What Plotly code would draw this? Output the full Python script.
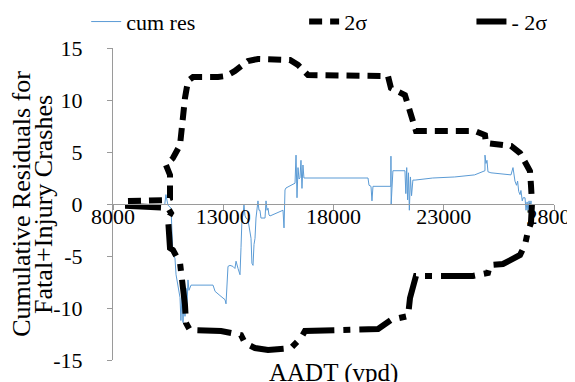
import plotly.graph_objects as go

# ---- data ----
cum_x = [10350, 10400, 10490, 10630, 10720, 10810, 10860, 10950, 11040, 11080, 11130, 11175, 11220, 11265,
         11310, 11355, 11400, 11445, 11540, 12535, 12630, 12850, 13080, 13125, 13170, 13215, 13305, 13440,
         13530, 13580, 13670, 13760, 13805, 13850, 13895, 13940, 13985, 14030, 14120, 14210, 14260, 14300,
         14350, 14395, 14440, 14485, 14575, 14620, 14665, 14710, 14895, 14940, 14985, 15030, 15075, 15120,
         15710, 15755, 15800, 15845, 16070, 16255, 16300, 16345, 16390, 16435, 16480, 16525, 16570, 16615,
         16660, 16840, 19565, 19610, 19700, 19745, 19790, 20600, 20605, 20615, 20695, 21240, 21280, 21320,
         21360, 21400, 21440, 21490, 21540, 21600, 21700, 22500, 23500, 24400, 24870, 24870, 24915, 24960,
         25005, 25140, 26050, 26140, 26230, 26300, 26350, 26400, 26460, 26500, 26560, 26600, 26685, 26730,
         26780, 26820, 26870, 26910, 26955, 26990]
cum_y = [0.0, 0.9, -0.1, -0.4, -4.9, -5.2, -6.8, -7.8, -9.0, -11.2, -8.6, -11.4, -9.0, -10.8,
         -8.1, -10.0, -7.3, -8.3, -7.8, -7.8, -8.4, -8.8, -9.2, -9.6, -7.1, -6.0, -5.9, -6.0,
         -6.2, -5.5, -6.2, -6.8, -4.2, -1.35, -1.1, -0.1, -1.1, -1.35, -1.5, -3.0, -3.3, -5.7,
         -5.9, -3.9, -3.3, -1.35, 0.3, -0.6, -0.6, -1.35, -1.35, 0.3, -0.6, -0.4, -1.06, -1.15,
         -0.6, -2.3, 1.35, 1.54, 1.83, 2.0, 4.7, 0.6, 3.5, 2.4, 2.5, 4.2, 1.5, 3.75,
         2.5, 2.5, 2.5, 1.8, 1.7, 0.3, 1.7, 1.7, 4.6, 0.0, 3.2, 3.2, 1.0, 3.5,
         0.4, 3.0, -0.6, 2.6, 0.8, 2.3, 2.3, 2.5, 2.6, 2.8, 3.2, 4.7, 3.9, 4.2,
         3.1, 3.0, 2.8, 3.5, 2.2, 1.8, 2.2, 1.2, 0.9, 1.3, 0.3, 0.6, 0.6, -0.6,
         0.2, -0.8, 0.3, -0.9, 0.3, -1.1]

up_x = [8680, 10360, 10585, 10585, 10400, 10720, 11040, 11175, 11265, 11400, 11630, 12760, 13125, 13530,
        13805, 14120, 14575, 15620, 16030, 16390, 16615, 16845, 20470, 20605, 21240, 21380, 21605, 21740,
        24415, 24870, 24915, 25460, 26050, 26460, 26730, 26910, 26955, 27000, 27000]
up_y = [0.29, 0.38, 0.58, 2.79, 3.75, 4.42, 5.67, 8.56, 10.19, 11.83, 12.21, 12.21, 12.31, 12.79,
        13.27, 13.75, 13.94, 13.94, 13.85, 13.37, 12.79, 12.40, 12.31, 11.15, 10.48, 9.52, 7.98, 7.02,
        7.02, 6.63, 5.87, 5.77, 5.58, 4.90, 3.75, 3.17, 1.83, 0.87, 0.2]

lo_x = [8680, 8680, 10495, 10630, 10495, 10585, 10720, 11040, 11265, 11310, 11490, 12900, 13805, 13985,
        14440, 15030, 16070, 16525, 16705, 20020, 20605, 21380, 21470, 21695, 21740, 24325, 25005, 25095,
        25685, 26460, 26685, 26820, 26955, 27000]
lo_y = [-0.1, -0.19, -0.38, -0.87, -1.35, -4.23, -4.42, -5.67, -9.71, -11.44, -12.12, -12.21, -12.60, -13.37,
        -13.85, -14.04, -13.85, -12.88, -12.21, -12.02, -11.15, -10.77, -9.04, -7.31, -6.92, -6.92, -6.63, -5.87,
        -5.77, -4.90, -3.94, -2.60, -1.83, 0.0]

x_ticks = [8000, 13000, 18000, 23000, 28000]
y_ticks = [-15, -10, -5, 0, 5, 10, 15]

FONT = "Liberation Serif"

fig = go.Figure()
fig.add_trace(go.Scatter(x=cum_x, y=cum_y, mode="lines", name="cum res",
                         line=dict(color="#5B9BD5", width=1), legend="legend"))
fig.add_trace(go.Scatter(x=up_x, y=up_y, mode="lines", name="2σ",
                         line=dict(color="black", width=6, dash="13px,8px"), legend="legend2"))
fig.add_trace(go.Scatter(x=lo_x, y=lo_y, mode="lines", name="- 2σ",
                         line=dict(color="black", width=6, dash="34px,9px,7px,9px"), legend="legend3"))

leg_common = dict(orientation="h", xref="container", yref="container", yanchor="middle", y=0.964,
                  xanchor="left", font=dict(family=FONT, size=22, color="black"),
                  bgcolor="rgba(0,0,0,0)")

fig.update_layout(
    width=575, height=382,
    margin=dict(l=105, r=29, t=40, b=30, autoexpand=False),
    paper_bgcolor="white", plot_bgcolor="white",
    font=dict(family=FONT, size=22, color="black"),
    showlegend=True,
    legend=dict(x=0.136, **leg_common),
    legend2=dict(x=0.515, **leg_common),
    legend3=dict(x=0.806, **leg_common),
    xaxis=dict(range=[8000, 28000], tickvals=x_ticks, ticktext=[str(v) for v in x_ticks],
               showgrid=False, zeroline=False, showline=True, linecolor="#9a9a9a", linewidth=1,
               ticks="outside", ticklen=5, tickcolor="#9a9a9a", anchor="free", position=0.5,
               tickfont=dict(family=FONT, size=22, color="black"), ticklabelstandoff=-12),
    yaxis=dict(range=[-15, 15], tickvals=y_ticks, ticktext=[str(v) for v in y_ticks],
               showgrid=False, zeroline=False, showline=True, linecolor="#9a9a9a", linewidth=1,
               ticks="outside", ticklen=5, tickcolor="#9a9a9a",
               tickfont=dict(family=FONT, size=22, color="black"), ticklabelstandoff=20),
    annotations=[
        dict(text="Cumulative Residuals for", textangle=-90,
             xref="paper", yref="paper", x=-0.209, y=0.5, xanchor="center", yanchor="middle",
             showarrow=False, font=dict(family=FONT, size=26, color="black")),
        dict(text="Fatal+Injury Crashes", textangle=-90,
             xref="paper", yref="paper", x=-0.159, y=0.5, xanchor="center", yanchor="middle",
             showarrow=False, font=dict(family=FONT, size=26, color="black")),
        dict(text="AADT (vpd)", xref="paper", yref="paper", x=0.5, y=0.01,
             xanchor="center", yanchor="top", showarrow=False,
             font=dict(family=FONT, size=25, color="black")),
    ],
)

fig.write_html("out.html")
